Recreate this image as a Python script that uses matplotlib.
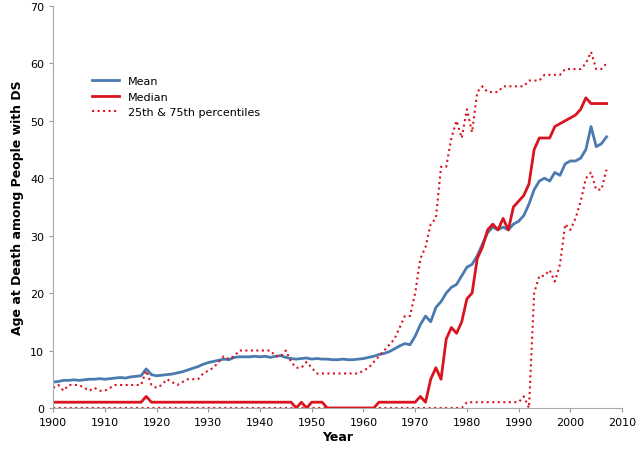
import matplotlib
matplotlib.use("Agg")
import matplotlib.pyplot as plt
import numpy as np

years = list(range(1900, 2008))
mean = [4.5,4.6,4.8,4.8,4.9,4.8,4.9,5.0,5.0,5.1,
        5.0,5.1,5.2,5.3,5.2,5.4,5.5,5.6,6.8,5.8,
        5.6,5.7,5.8,5.9,6.1,6.3,6.6,6.9,7.2,7.6,
        7.9,8.1,8.3,8.5,8.4,8.8,8.9,8.9,8.9,9.0,
        8.9,9.0,8.8,9.0,9.1,8.8,8.6,8.5,8.6,8.7,
        8.5,8.6,8.5,8.5,8.4,8.4,8.5,8.4,8.4,8.5,
        8.6,8.8,9.0,9.3,9.5,9.8,10.3,10.8,11.2,11.0,
        12.5,14.5,16.0,15.0,17.5,18.5,20.0,21.0,21.5,23.0,
        24.5,25.0,26.5,28.5,30.5,31.5,31.0,31.5,31.0,32.0,
        32.5,33.5,35.5,38.0,39.5,40.0,39.5,41.0,40.5,42.5,
        43.0,43.0,43.5,45.0,49.0,45.5,46.0,47.2]
median = [1]*18 + [2] + [1]*28 + [0,1,0,1,1,1] + [0]*10 + [1]*8 + \
         [2,1,5,7,5,12,14,13,15,19,20,26,28,31,32,31,33,31,35,36,37,39,
          45,47,47,47,49,49.5,50,50.5,51,52,54,53,53,53,53]
p75 = [3.5,4,3,4,4,4,3.5,3,3.5,3,
       3,3.5,4,4,4,4,4,4,6.5,4,
       3.5,4,5,4.5,4,4.5,5,5,5,6,
       6.5,7,8,9,8.5,9,10,10,10,10,
       10,10,10,9,9,10,8,7,7,8,
       7,6,6,6,6,6,6,6,6,6,
       6.5,7,8,9,10,11,12,14,16,16,
       20,26,28,32,33,42,42,47,50,47,
       52,48,55,56,55,55,55,56,56,56,
       56,56,57,57,57,58,58,58,58,59,
       59,59,59,60,62,59,59,60]
p25 = [0]*80 + [1]*11 + [2,0,20,23,23,24,22,25,32,31,33,36,40,41,38,38,41.5]
median = median[:108]

fig = plt.figure(figsize=(6.4, 4.6), dpi=100)
ax = fig.add_axes([0.083, 0.111, 0.889, 0.874])
blue = "#4a7ab0"; red = "#d9141e"
ax.plot(years, mean, color=blue, lw=2, label="Mean")
ax.plot(years, median, color=red, lw=2, label="Median")
ax.plot(years, p75, color=red, lw=1.5, ls=":", label="25th & 75th percentiles")
ax.plot(years, p25, color=red, lw=1.5, ls=":")
ax.set_xlim(1900, 2010)
ax.set_ylim(0, 70)
ax.set_xticks(range(1900, 2011, 10))
ax.set_yticks(range(0, 71, 10))
ax.tick_params(labelsize=8, length=3, color="#999999")
for s in ["top", "right"]:
    ax.spines[s].set_visible(False)
for s in ["left", "bottom"]:
    ax.spines[s].set_color("#aaaaaa")
ax.set_xlabel("Year", fontsize=9, fontweight="bold", labelpad=2)
ax.set_ylabel("Age at Death among People with DS", fontsize=9, fontweight="bold")
ax.legend(loc="upper left", bbox_to_anchor=(0.05, 0.85), frameon=False, fontsize=8, handlelength=2.5)
fig.savefig("out.png")
